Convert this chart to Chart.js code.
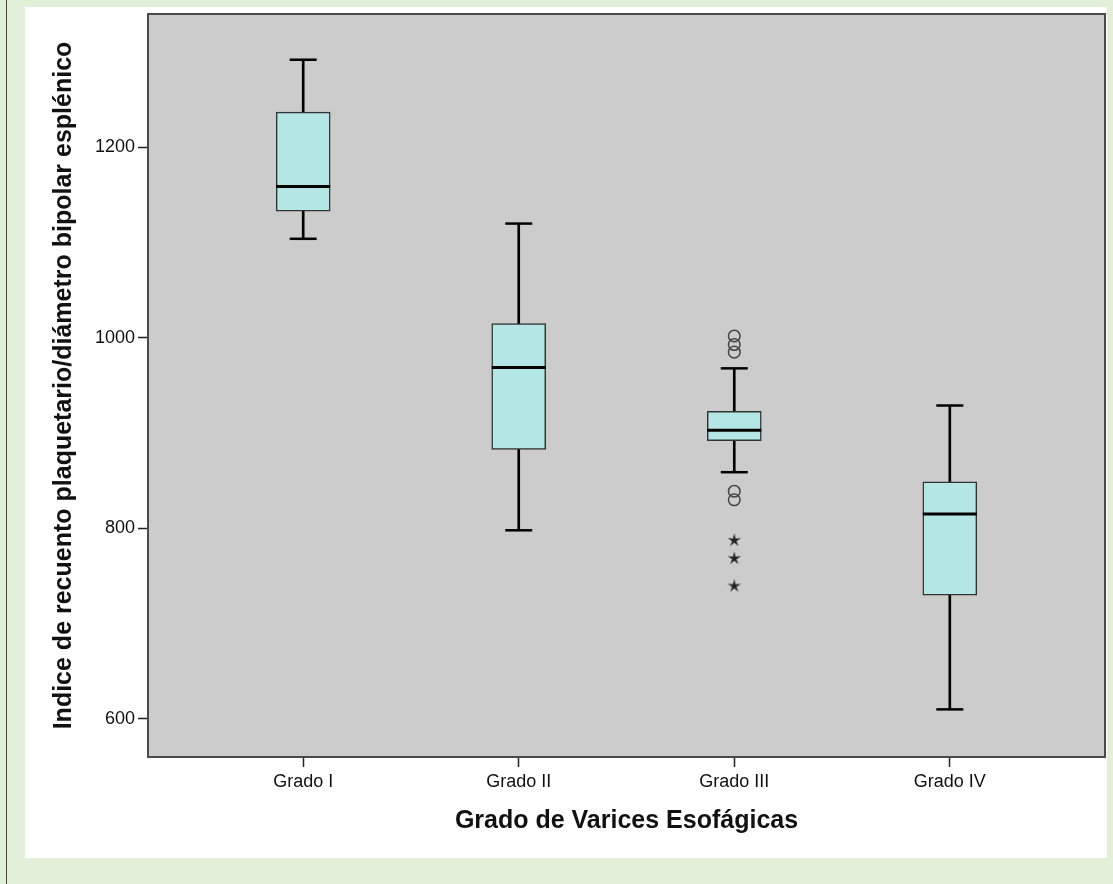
<!DOCTYPE html>
<html>
<head>
<meta charset="utf-8">
<script src="https://cdn.jsdelivr.net/npm/chart.js@4.4.1/dist/chart.umd.min.js"></script>
<style>
    body { margin: 0; background: #e2efd9; }
    #frame { position: absolute; left: 6px; top: 0; width: 1107px; height: 884px; border-left: 1.5px solid #444; }
    #panel { position: absolute; left: 25px; top: 7px; width: 1082px; height: 851px; background: #fff; }
</style>
</head>
<body>
<div id="frame"></div>
<div id="panel"><canvas id="chart" width="1082" height="851"></canvas></div>
<script>
// Categories and box statistics
const categories = ["Grado I", "Grado II", "Grado III", "Grado IV"];
const whiskerMin = [1104, 798, 859, 610];
const quartile1 = [1133, 883, 892, 730];
const medians = [1159, 969, 903, 815];
const quartile3 = [1237, 1015, 923, 849];
const whiskerMax = [1292, 1120, 968, 929];

// Outliers (circles) and extremes (stars) for Grado III
const outlierCategory = [3, 3, 3, 3, 3];
const outlierValues = [1002, 993, 985, 839, 830];
const extremeCategory = [3, 3, 3];
const extremeValues = [788, 769, 740];

const yTickValues = [600, 800, 1000, 1200];

const positions = categories.map((c, i) => i + 1);

// Small 5-point star marker for extremes
function makeStar() {
    const c = document.createElement("canvas");
    c.width = 16; c.height = 16;
    const g = c.getContext("2d");
    g.fillStyle = "#222";
    g.beginPath();
    for (let i = 0; i < 10; i++) {
        const r = i % 2 === 0 ? 7 : 2.3;
        const a = -Math.PI / 2 + i * Math.PI / 5;
        g.lineTo(8 + r * Math.cos(a), 8.5 + r * Math.sin(a));
    }
    g.closePath();
    g.fill();
    return c;
}

// Plot background and frame
const plotFrame = {
    id: "plotFrame",
    beforeDatasetsDraw(chart) {
        const { ctx, chartArea: a } = chart;
        ctx.save();
        ctx.fillStyle = "#cccccc";
        ctx.fillRect(a.left, a.top, a.right - a.left, a.bottom - a.top);
        ctx.restore();
    },
    afterDatasetsDraw(chart) {
        const { ctx, chartArea: a } = chart;
        ctx.save();
        ctx.strokeStyle = "#4a4a4a";
        ctx.lineWidth = 2;
        ctx.strokeRect(a.left, a.top, a.right - a.left, a.bottom - a.top);
        ctx.restore();
    },
};

const fontFamily = "'Liberation Sans', Arial, sans-serif";

new Chart(document.getElementById("chart"), {
    type: "bar",
    data: {
        datasets: [
            {
                type: "scatter",
                data: positions.map((x, i) => ({ x, y: medians[i] })),
                pointStyle: "line",
                pointRadius: 27,
                borderColor: "#000",
                borderWidth: 3,
                order: 0,
            },
            {
                type: "scatter",
                data: positions.flatMap((x, i) => [{ x, y: whiskerMin[i] }, { x, y: whiskerMax[i] }]),
                pointStyle: "line",
                pointRadius: 13.5,
                borderColor: "#000",
                borderWidth: 2.5,
                order: 1,
            },
            {
                type: "scatter",
                data: outlierValues.map((v, i) => ({ x: outlierCategory[i], y: v })),
                pointStyle: "circle",
                pointRadius: 5.8,
                borderColor: "#444",
                backgroundColor: "rgba(0,0,0,0)",
                borderWidth: 1.5,
                order: 1,
            },
            {
                type: "scatter",
                data: extremeValues.map((v, i) => ({ x: extremeCategory[i], y: v })),
                pointStyle: makeStar(),
                pointRadius: 7,
                order: 1,
            },
            {
                data: positions.map((x, i) => ({ x, y: [quartile1[i], quartile3[i]] })),
                backgroundColor: "#b4e6e6",
                borderColor: "#333",
                borderWidth: 1.5,
                borderSkipped: false,
                barThickness: 54,
                grouped: false,
                order: 2,
            },
            {
                data: positions.map((x, i) => ({ x, y: [whiskerMin[i], whiskerMax[i]] })),
                backgroundColor: "#000",
                borderWidth: 0,
                barThickness: 2,
                grouped: false,
                order: 3,
            },
        ],
    },
    options: {
        responsive: false,
        animation: false,
        layout: { autoPadding: false, padding: { top: 7, right: 2, left: 0, bottom: 0 } },
        plugins: { legend: { display: false }, tooltip: { enabled: false } },
        scales: {
            x: {
                type: "linear",
                min: 0.28,
                max: 4.72,
                offset: false,
                border: { display: false },
                grid: { offset: false, drawOnChartArea: false, drawTicks: true, tickLength: 10, color: "#222", tickWidth: 1.5 },
                afterBuildTicks: (scale) => { scale.ticks = positions.map((v) => ({ value: v })); },
                afterFit: (scale) => { scale.height = 101; scale.paddingLeft = 0; scale.paddingRight = 0; },
                ticks: {
                    autoSkip: false,
                    maxRotation: 0,
                    padding: 4,
                    color: "#111",
                    font: { family: fontFamily, size: 18 },
                    callback: (v) => categories[v - 1],
                },
                title: {
                    display: true,
                    text: "Grado de Varices Esofágicas",
                    color: "#111",
                    font: { family: fontFamily, size: 25, weight: "bold" },
                    padding: { bottom: 22 },
                },
            },
            y: {
                type: "linear",
                min: 560,
                max: 1340,
                border: { display: false },
                grid: { drawOnChartArea: false, drawTicks: true, tickLength: 10, color: "#222", tickWidth: 1.5 },
                afterBuildTicks: (scale) => { scale.ticks = yTickValues.map((v) => ({ value: v })); },
                afterFit: (scale) => { scale.width = 123; scale.paddingTop = 0; scale.paddingBottom = 0; },
                ticks: {
                    padding: 3,
                    color: "#111",
                    font: { family: fontFamily, size: 18 },
                    callback: (v) => String(v),
                },
                title: {
                    display: true,
                    text: "Indice de recuento plaquetario/diámetro bipolar esplénico",
                    color: "#111",
                    font: { family: fontFamily, size: 25, weight: "bold" },
                    padding: { top: 24 },
                },
            },
        },
    },
    plugins: [plotFrame],
});
</script>
</body>
</html>
